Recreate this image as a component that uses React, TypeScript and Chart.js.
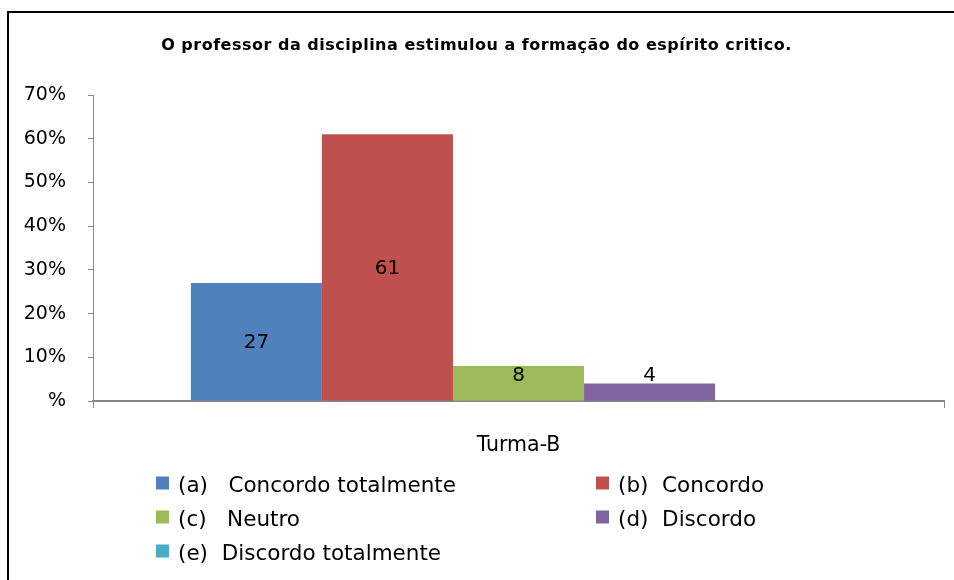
import React, { useEffect, useRef } from 'react';
import { Chart, registerables } from 'chart.js';

Chart.register(...registerables);

const chartTitle = 'O professor da disciplina estimulou a formação do espírito critico.';
const categories = ['Turma-B'];
const seriesLabels = [
  '(a)   Concordo totalmente',
  '(b)  Concordo',
  '(c)   Neutro',
  '(d)  Discordo',
  '(e)  Discordo totalmente',
];
const seriesValues = [27, 61, 8, 4, 0];
const seriesColors = ['#4F81BD', '#C0504D', '#9BBB59', '#8064A2', '#4BACC6'];
const yMax = 70;
const yStep = 10;

const FONT = '"DejaVu Sans", "Liberation Sans", sans-serif';
const AXIS_GRAY = '#868686';

const W = 945;
const H = 567;

const overlayPlugin = {
  id: 'overlay',
  afterDraw(chart: any) {
    const ctx = chart.ctx;
    const area = chart.chartArea;
    ctx.save();
    // title
    ctx.fillStyle = '#000';
    ctx.font = 'bold 16px ' + FONT;
    try { (ctx as any).letterSpacing = '0.5px'; } catch (e) {}
    ctx.textAlign = 'center';
    ctx.textBaseline = 'alphabetic';
    ctx.fillText(chartTitle, chart.width / 2 - 5, 37);
    try { (ctx as any).letterSpacing = '0px'; } catch (e) {}

    // data labels
    ctx.font = '20px ' + FONT;
    ctx.textBaseline = 'middle';
    chart.data.datasets.forEach((ds: any, i: number) => {
      const meta = chart.getDatasetMeta(i);
      meta.data.forEach((bar: any, j: number) => {
        const v = ds.data[j];
        if (!v) return;
        const mid = (bar.y + bar.base) / 2;
        const y = Math.min(mid, bar.base - 26);
        ctx.fillText(String(v), bar.x, y + 1);
      });
    });

    // category / axis label
    ctx.font = '20.5px ' + FONT;
    ctx.textBaseline = 'alphabetic';
    ctx.fillText(categories[0], (area.left + area.right) / 2, area.bottom + 50);

    // legend (two columns)
    ctx.font = '21.5px ' + FONT;
    const colX = [147, 587];
    const rowY = [area.bottom + 82, area.bottom + 116, area.bottom + 150];
    ctx.textAlign = 'left';
    chart.data.datasets.forEach((ds: any, i: number) => {
      const x = colX[i % 2];
      const y = rowY[Math.floor(i / 2)];
      ctx.fillStyle = ds.backgroundColor;
      ctx.fillRect(x, y - 6.5, 13, 13);
      ctx.fillStyle = '#000';
      ctx.fillText(ds.label, x + 22, y + 9);
    });
    ctx.restore();
  },
};

export default function App() {
  const ref = useRef<HTMLCanvasElement>(null);
  useEffect(() => {
    document.body.style.margin = '0';
    document.body.style.overflow = 'hidden';
    const canvas = ref.current!;
    const chart = new Chart(canvas, {
      type: 'bar',
      data: {
        labels: categories,
        datasets: seriesLabels.map((label, i) => ({
          label,
          data: [seriesValues[i]],
          backgroundColor: seriesColors[i],
          borderWidth: 0,
          barPercentage: 1,
          categoryPercentage: 0.77,
        })),
      },
      options: {
        responsive: false,
        animation: false,
        devicePixelRatio: 1,
        layout: { padding: { top: 82, left: 0, right: 10, bottom: 0 } },
        plugins: {
          legend: { display: false },
          title: { display: false },
          tooltip: { enabled: false },
        },
        scales: {
          x: {
            type: 'category',
            ticks: { display: false },
            grid: {
              offset: true,
              drawOnChartArea: false,
              drawTicks: true,
              tickLength: 7,
              color: AXIS_GRAY,
              lineWidth: 1,
            },
            border: { display: true, color: AXIS_GRAY, width: 2 },
            afterFit: (s: any) => {
              s.height = 179;
            },
          },
          y: {
            min: 0,
            max: yMax,
            ticks: {
              stepSize: yStep,
              padding: 22,
              color: '#000',
              font: { family: FONT, size: 19 },
              callback: (v: any) => (v === 0 ? '%' : v + '%'),
            },
            grid: {
              drawOnChartArea: false,
              drawTicks: true,
              tickLength: 5,
              color: AXIS_GRAY,
              lineWidth: 1,
            },
            border: { display: true, color: AXIS_GRAY, width: 1 },
            afterFit: (s: any) => {
              s.width = 84;
            },
          },
        },
      },
      plugins: [overlayPlugin],
    });
    return () => chart.destroy();
  }, []);

  return (
    <div
      style={{
        position: 'absolute',
        left: 7,
        top: 11,
        width: 954 - 7,
        height: 580 - 11,
        boxSizing: 'border-box',
        borderLeft: '2px solid #000',
        borderTop: '2px solid #000',
        background: '#fff',
        overflow: 'hidden',
      }}
    >
      <canvas ref={ref} width={W} height={H} style={{ display: 'block', width: W, height: H }} />
    </div>
  );
}
